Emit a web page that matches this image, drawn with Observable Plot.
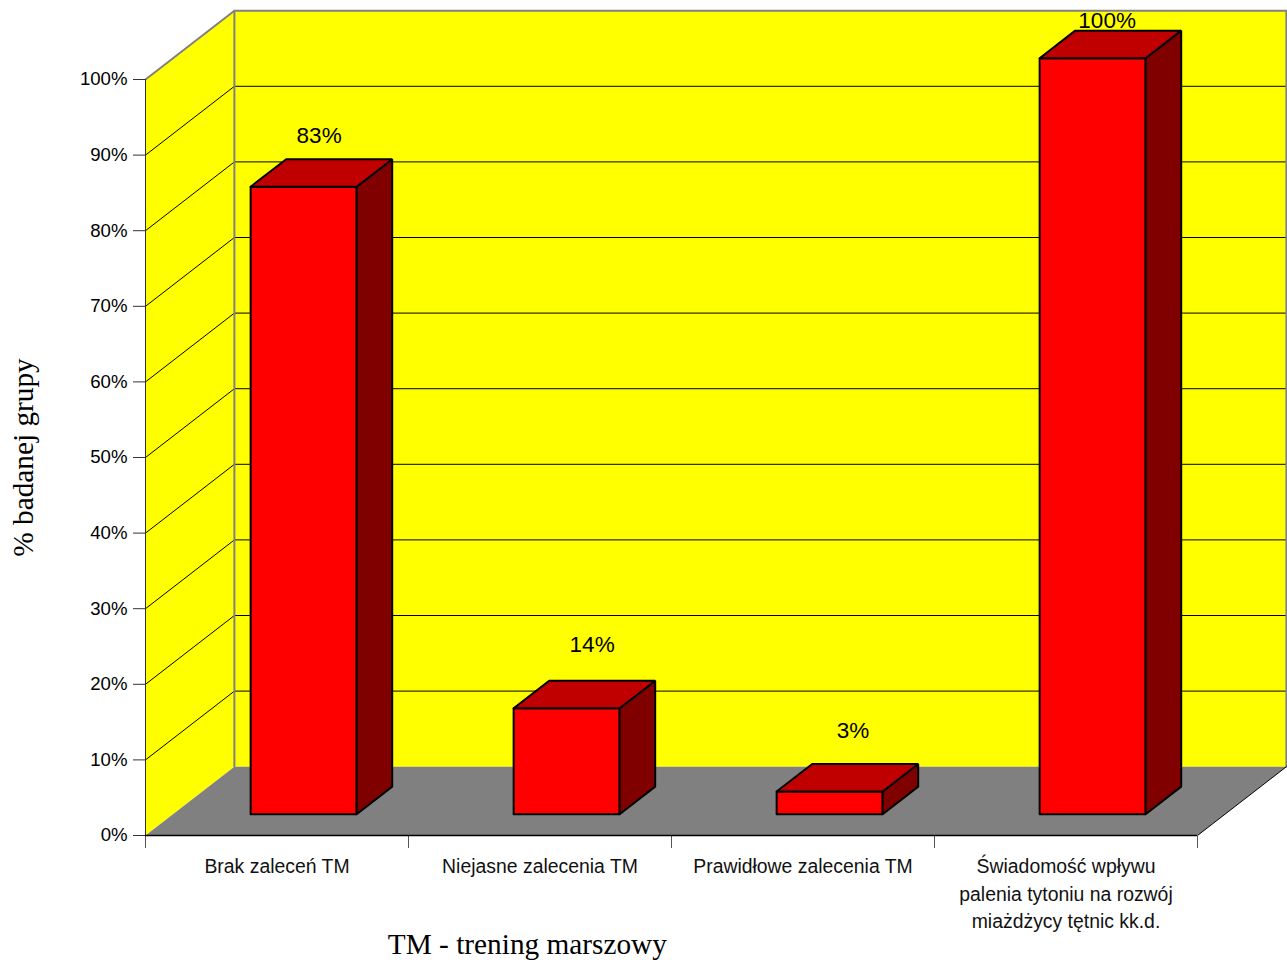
<!DOCTYPE html>
<html lang="pl">
<head>
<meta charset="utf-8">
<style>html,body{margin:0;padding:0;background:#fff}</style>
<script src="https://cdn.jsdelivr.net/npm/d3@7"></script>
<script src="https://cdn.jsdelivr.net/npm/@observablehq/plot@0.6"></script>
</head>
<body>
<div id="chart"></div>
<script>
// Survey results: share of the studied group per category
const categories = [
  "Brak zaleceń TM",
  "Niejasne zalecenia TM",
  "Prawidłowe zalecenia TM",
  "Świadomość wpływu\npalenia tytoniu na rozwój\nmiażdżycy tętnic kk.d."
];
const percentValues = [83, 14, 3, 100];
const percentTicks = [0, 10, 20, 30, 40, 50, 60, 70, 80, 90, 100];
const categoryEdges = [0, 1, 2, 3, 4];

// Oblique projection: how far the full depth of the box shifts a point, in data units
const depthX = 0.338;
const depthY = 9.1;
const project = (x, y, d) => ({x: x + d * depthX, y: y + d * depthY});

// Closed polygon for a line mark, from [x, y, depth] corners
const ring = (id, corners) =>
  [...corners, corners[0]].map(([x, y, d]) => ({id, ...project(x, y, d)}));

const xMax = categoryEdges[categoryEdges.length - 1];
const yMax = percentTicks[percentTicks.length - 1];

const backWall = ring("back", [[0, 0, 1], [0, yMax, 1], [xMax, yMax, 1], [xMax, 0, 1]]);
const leftWall = ring("left", [[0, 0, 0], [0, yMax, 0], [0, yMax, 1], [0, 0, 1]]);
const floor = ring("floor", [[0, 0, 0], [0, 0, 1], [xMax, 0, 1], [xMax, 0, 0]]);

const gridLines = percentTicks.slice(1, -1).flatMap((t) => [
  {id: t, ...project(0, t, 0)},
  {id: t, ...project(0, t, 1)},
  {id: t, ...project(xMax, t, 1)}
]);
const wallEdge = [project(0, yMax, 0), project(0, yMax, 1), project(xMax, yMax, 1), project(xMax, 0, 1)];
const innerEdge = [project(0, yMax, 1), project(0, 0, 1)];
const floorEdge = [project(xMax, 0, 0), project(xMax, 0, 1)];

// Bars occupy the middle of each category and the middle of the box depth
const barStart = 0.295, barEnd = 0.698, depthNear = 0.31, depthFar = 0.71;
const barFront = percentValues.flatMap((v, i) => ring(i, [
  [i + barStart, 0, depthNear], [i + barStart, v, depthNear],
  [i + barEnd, v, depthNear], [i + barEnd, 0, depthNear]
]));
const barTop = percentValues.flatMap((v, i) => ring(i, [
  [i + barStart, v, depthNear], [i + barStart, v, depthFar],
  [i + barEnd, v, depthFar], [i + barEnd, v, depthNear]
]));
const barSide = percentValues.flatMap((v, i) => ring(i, [
  [i + barEnd, 0, depthNear], [i + barEnd, v, depthNear],
  [i + barEnd, v, depthFar], [i + barEnd, 0, depthFar]
]));

// Pixel offsets of each value label from the far top edge of its bar
const labelShiftX = [-21, -11, -13, -22];
const labelShiftY = [-23, -36, -33, -10];

const sans = "'Liberation Sans', Arial, sans-serif";
const serif = "'Liberation Serif', 'Times New Roman', serif";
const face = (data, fill, stroke, strokeWidth) =>
  Plot.line(data, {x: "x", y: "y", z: "id", fill, stroke, strokeWidth, strokeLinejoin: "miter"});

const chart = Plot.plot({
  width: 1287,
  height: 960,
  marginLeft: 145,
  marginRight: 90,
  marginTop: 79,
  marginBottom: 125,
  x: {domain: [0, xMax]},
  y: {domain: [0, yMax]},
  style: {background: "#fff", color: "#000", fontFamily: sans, overflow: "visible"},
  marks: [
    face(backWall, "#ffff00", "none", 0),
    face(leftWall, "#ffff00", "none", 0),
    face(floor, "#808080", "none", 0),
    Plot.line(gridLines, {x: "x", y: "y", z: "id", stroke: "#000", strokeWidth: 1}),
    Plot.line(wallEdge, {x: "x", y: "y", stroke: "#808080", strokeWidth: 2}),
    Plot.line(innerEdge, {x: "x", y: "y", stroke: "#808080", strokeWidth: 2}),
    Plot.line(floorEdge, {x: "x", y: "y", stroke: "#000", strokeWidth: 1}),
    Plot.axisY({
      ticks: percentTicks,
      tickFormat: (d) => `${d}%`,
      tickSize: 12,
      tickPadding: 6,
      fontSize: 18.6,
      label: null,
      stroke: "#333"
    }),
    Plot.ruleX([0], {stroke: "#333", strokeWidth: 1}),
    Plot.axisX({
      ticks: categoryEdges,
      tickFormat: () => "",
      tickSize: 13,
      label: null,
      stroke: "#555"
    }),
    Plot.ruleY([0], {stroke: "#000", strokeWidth: 1.5}),
    face(barFront, "#ff0000", "#000", 2),
    face(barSide, "#800000", "#000", 2),
    face(barTop, "#c00000", "#000", 2),
    ...percentValues.map((v, i) =>
      Plot.text([`${v}%`], {
        x: project(i + 0.5, v, depthFar).x,
        y: project(i + 0.5, v, depthFar).y,
        dx: labelShiftX[i],
        dy: labelShiftY[i],
        fontSize: 22.5,
        fill: "#000"
      })
    ),
    Plot.text(categories, {
      x: (d, i) => i + 0.5,
      y: 0,
      dy: 18,
      text: (d) => d,
      lineAnchor: "top",
      lineHeight: 1.42,
      fontSize: 19.4,
      fill: "#111"
    }),
    Plot.text(["TM - trening marszowy"], {
      x: 1.452,
      y: 0,
      dy: 109,
      fontFamily: serif,
      fontSize: 29.3,
      fill: "#000"
    }),
    Plot.text(["% badanej grupy"], {
      frameAnchor: "left",
      dx: -122,
      y: 50,
      rotate: -90,
      textAnchor: "middle",
      fontFamily: serif,
      fontSize: 29.3,
      fill: "#000"
    })
  ]
});
document.getElementById("chart").append(chart);
</script>
</body>
</html>
